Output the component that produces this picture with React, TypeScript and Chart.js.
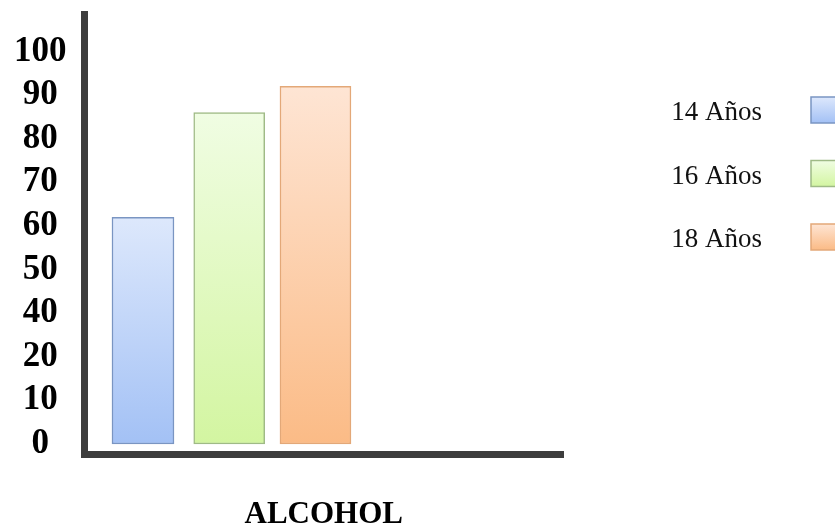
import React, { useEffect, useRef } from "react";
import { Chart, registerables } from "chart.js";

Chart.register(...registerables);

// ---- data ----
const categories = ["14 Años", "16 Años", "18 Años"];
const values = [62, 86, 92];
// the printed axis labels (evenly spaced; note "30" is absent in the original)
const tickValues = [0, 10, 20, 40, 50, 60, 70, 80, 90, 100];
const axisTitle = "ALCOHOL";

// ---- styles ----
const topColors = ["#dde8fc", "#f0fde3", "#fee5d4"];
const bottomColors = ["#a3c1f5", "#d3f5a1", "#fbbb86"];
const borderColors = ["#7a95c2", "#9fba86", "#e3a878"];
const barWidths = [62, 71, 71];
const serif = '"Liberation Serif", "Times New Roman", serif';

// map a value onto the evenly spaced printed labels
function toAxisPos(v: number): number {
  for (let i = 0; i < tickValues.length - 1; i++) {
    const a = tickValues[i];
    const b = tickValues[i + 1];
    if (v >= a && v <= b) return i + (v - a) / (b - a);
  }
  return tickValues.length - 1;
}

const sideLegend = {
  id: "sideLegend",
  afterDraw(chart: any, _args: any, opts: any) {
    const ctx = chart.ctx;
    ctx.save();
    ctx.font = opts.font;
    ctx.textAlign = "right";
    ctx.textBaseline = "middle";
    chart.data.datasets.forEach((ds: any, i: number) => {
      const y = opts.top + i * opts.step;
      ctx.fillStyle = opts.color;
      ctx.fillText(ds.label, chart.width - opts.textInset, y + 3);
      const x = chart.width - opts.boxInset;
      const h = opts.boxHeight;
      const g = ctx.createLinearGradient(0, y - h / 2, 0, y + h / 2);
      g.addColorStop(0, topColors[i]);
      g.addColorStop(1, bottomColors[i]);
      ctx.fillStyle = g;
      ctx.fillRect(x, y - h / 2, opts.boxWidth, h);
      ctx.strokeStyle = borderColors[i];
      ctx.lineWidth = 1.5;
      ctx.strokeRect(x, y - h / 2, opts.boxWidth, h);
    });
    ctx.restore();
  },
};

export default function App() {
  const ref = useRef<HTMLCanvasElement | null>(null);

  useEffect(() => {
    if (!ref.current) return;
    const datasets = categories.map((label, i) => ({
      label,
      data: [{ x: i + 1, y: toAxisPos(values[i]) }],
      barThickness: barWidths[i],
      borderColor: borderColors[i],
      borderWidth: 1.5,
      borderSkipped: false as const,
      backgroundColor: (c: any) => {
        const chart = c.chart;
        const ys = chart.scales && chart.scales.y;
        if (!chart.chartArea || !ys || !c.parsed) return bottomColors[i];
        const top = ys.getPixelForValue(c.parsed.y);
        const bot = ys.getPixelForValue(0);
        const g = chart.ctx.createLinearGradient(0, top, 0, bot);
        g.addColorStop(0, topColors[i]);
        g.addColorStop(1, bottomColors[i]);
        return g;
      },
    }));

    const chart = new Chart(ref.current, {
      type: "bar",
      data: { datasets },
      plugins: [sideLegend],
      options: {
        animation: false,
        responsive: false,
        layout: { padding: { left: 13.75, top: 14.5, right: 272, bottom: 0 } },
        plugins: {
          legend: { display: false },
          tooltip: { enabled: false },
          sideLegend: {
            font: `27px ${serif}`,
            color: "#111",
            top: 110,
            step: 63.5,
            textInset: 73,
            boxInset: 24,
            boxWidth: 40,
            boxHeight: 26,
          },
        } as any,
        scales: {
          x: {
            type: "linear",
            stacked: true,
            offset: false,
            min: 0.322,
            max: 5.87,
            grid: { display: false, drawTicks: false },
            ticks: { display: false },
            border: { display: true, color: "#3d3d3d", width: 7 },
            title: {
              display: true,
              text: axisTitle,
              color: "#000",
              align: "center",
              font: { family: serif, size: 31, weight: "bold", lineHeight: 1 },
              padding: { top: 44.5, bottom: -3 },
            },
          },
          y: {
            type: "linear",
            stacked: true,
            min: -0.24,
            max: 9.85,
            grid: { display: false, drawTicks: false },
            border: { display: true, color: "#3d3d3d", width: 7 },
            afterBuildTicks: (scale: any) => {
              scale.ticks = tickValues.map((_, i) => ({ value: i }));
            },
            afterFit: (scale: any) => {
              scale.width = 70.75;
              scale.paddingTop = 0;
              scale.paddingBottom = 0;
            },
            ticks: {
              color: "#000",
              crossAlign: "center",
              padding: 18,
              font: { family: serif, size: 35, weight: "bold", lineHeight: 1 },
              callback: (v: any) => String(tickValues[Math.round(Number(v))]),
            },
          },
        },
      },
    });
    return () => chart.destroy();
  }, []);

  return (
    <div
      style={{
        position: "fixed",
        left: 0,
        top: 0,
        width: 835,
        height: 527,
        overflow: "hidden",
        background: "#fff",
      }}
    >
      <canvas ref={ref} width={835} height={527} style={{ display: "block" }} />
    </div>
  );
}
